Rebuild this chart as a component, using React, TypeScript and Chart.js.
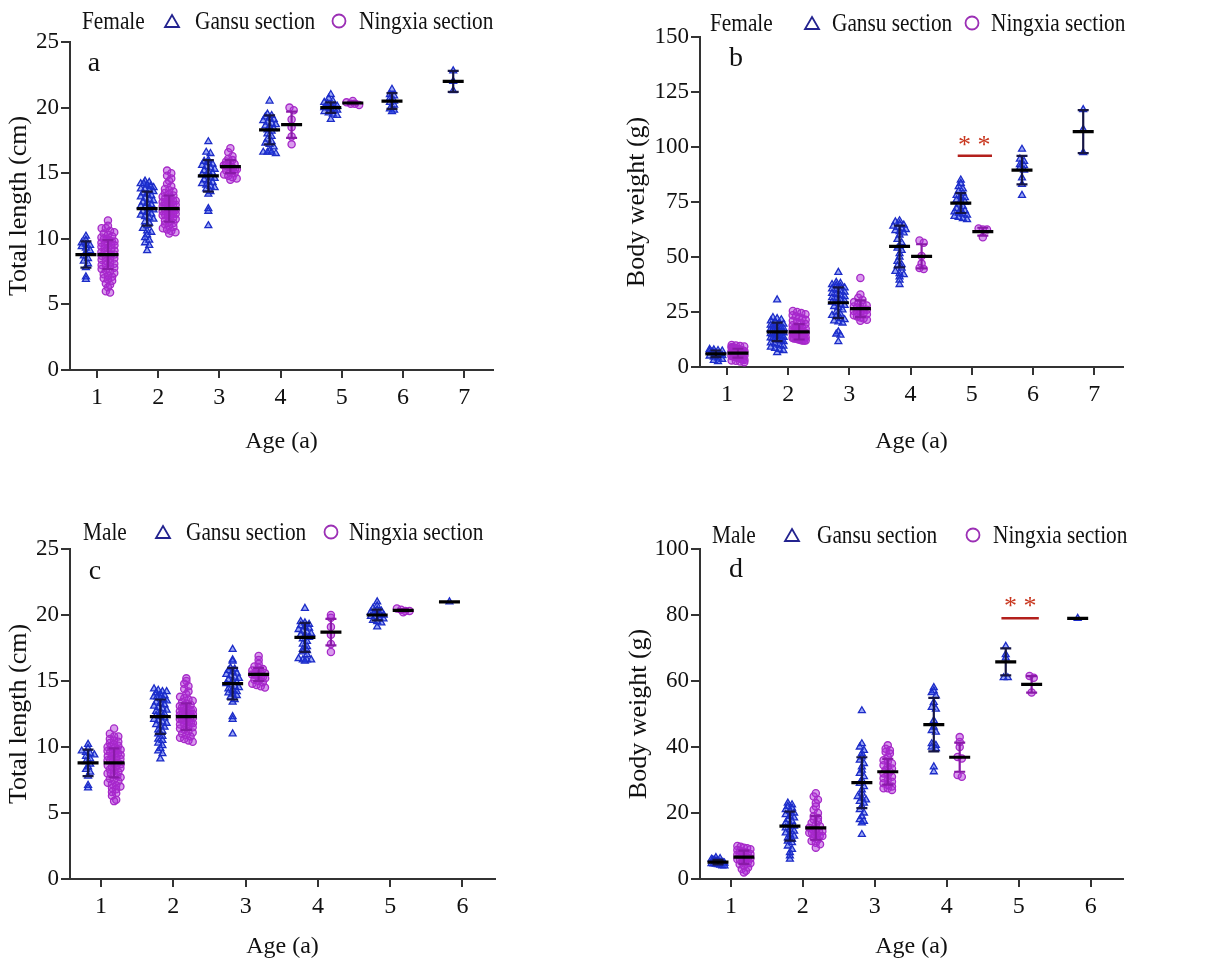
import React, { useEffect, useRef } from 'react';
import { Chart, registerables } from 'chart.js';

Chart.register(...registerables);

const SERIF = '"Liberation Serif", "Times New Roman", Times, serif';

// ---------------- DATA ----------------
const ages7 = [1, 2, 3, 4, 5, 6, 7];
const ages6 = [1, 2, 3, 4, 5, 6];
const ages5 = [1, 2, 3, 4, 5];
const xTicks7 = [1, 2, 3, 4, 5, 6, 7];
const xTicks6 = [1, 2, 3, 4, 5, 6];

// Total length (cm) — individual fish
const tlGansu1 = [10.2, 9.9, 9.7, 9.6, 9.5, 9.4, 9.3, 9.1, 8.9, 8.7, 8.5, 8.3, 8.1, 7.8, 7.1, 6.9];
const tlNingxia1 = [11.4, 11.0, 10.8, 10.8, 10.6, 10.5, 10.4, 10.3, 10.2, 10.1, 10.0, 10.0, 9.9, 9.8, 9.8, 9.7, 9.6, 9.6, 9.5, 9.5, 9.4, 9.3, 9.3, 9.2, 9.1, 9.0, 9.0, 8.9, 8.8, 8.8, 8.7, 8.6, 8.5, 8.5, 8.4, 8.3, 8.2, 8.1, 8.0, 8.0, 7.9, 7.8, 7.7, 7.6, 7.5, 7.4, 7.3, 7.2, 7.1, 7.0, 6.9, 6.8, 6.6, 6.5, 6.3, 6.0, 5.9];
const tlGansu2 = [14.4, 14.3, 14.2, 14.2, 14.1, 14.0, 13.9, 13.8, 13.8, 13.7, 13.6, 13.5, 13.4, 13.3, 13.2, 13.1, 13.0, 12.9, 12.8, 12.7, 12.6, 12.5, 12.4, 12.3, 12.2, 12.1, 12.0, 11.9, 11.8, 11.7, 11.6, 11.5, 11.3, 11.2, 11.0, 10.8, 10.6, 10.5, 10.3, 10.1, 9.9, 9.7, 9.5, 9.1];
const tlNingxia2 = [15.2, 15.0, 14.8, 14.6, 14.4, 14.2, 14.0, 13.8, 13.7, 13.6, 13.5, 13.4, 13.3, 13.2, 13.1, 13.0, 13.0, 12.9, 12.9, 12.8, 12.8, 12.7, 12.7, 12.6, 12.6, 12.5, 12.5, 12.4, 12.4, 12.3, 12.3, 12.2, 12.2, 12.1, 12.1, 12.0, 12.0, 11.9, 11.9, 11.8, 11.8, 11.7, 11.7, 11.6, 11.5, 11.4, 11.3, 11.2, 11.1, 11.0, 10.9, 10.8, 10.7, 10.6, 10.5, 10.4];
const tlGansu3 = [17.4, 16.6, 16.5, 16.0, 15.9, 15.8, 15.7, 15.6, 15.5, 15.4, 15.3, 15.2, 15.1, 15.0, 14.9, 14.8, 14.7, 14.6, 14.5, 14.4, 14.3, 14.2, 14.1, 14.0, 13.9, 13.8, 13.6, 13.4, 12.3, 12.1, 11.0];
const tlNingxia3 = [16.9, 16.6, 16.3, 16.1, 16.0, 15.9, 15.8, 15.7, 15.6, 15.6, 15.5, 15.5, 15.4, 15.4, 15.3, 15.3, 15.2, 15.1, 15.0, 14.9, 14.8, 14.7, 14.6, 14.5];
const tlGansu4 = [20.5, 19.5, 19.4, 19.3, 19.2, 19.1, 19.0, 18.9, 18.8, 18.7, 18.6, 18.5, 18.4, 18.3, 18.2, 18.0, 17.8, 17.6, 17.4, 17.3, 17.2, 17.0, 16.7, 16.6, 16.6, 16.6, 16.5];
const tlNingxia4 = [20.0, 19.8, 19.1, 18.5, 17.8, 17.2];
const tlGansu5 = [21.0, 20.7, 20.5, 20.4, 20.3, 20.2, 20.1, 20.1, 20.0, 20.0, 19.9, 19.9, 19.8, 19.7, 19.6, 19.5, 19.4, 19.1];
const tlNingxia5 = [20.5, 20.4, 20.3, 20.3, 20.2];
const tlGansuF6 = [21.4, 21.0, 20.9, 20.7, 20.5, 20.4, 20.2, 19.9, 19.8, 19.7];
const tlGansuF7 = [22.8, 22.0, 21.3];
const tlGansuM6 = [21.0];

const tlGansuMeanF = [8.8, 12.3, 14.8, 18.3, 20.0, 20.5, 22.0];
const tlGansuSdF = [1.0, 1.3, 1.2, 1.1, 0.4, 0.6, 0.8];
const tlGansuMeanM = [8.8, 12.3, 14.8, 18.3, 20.0, 21.0];
const tlGansuSdM = [1.0, 1.3, 1.2, 1.1, 0.4, 0];
const tlNingxiaMean = [8.8, 12.3, 15.5, 18.7, 20.35];
const tlNingxiaSd = [1.1, 1.0, 0.5, 1.0, 0.1];

// Body weight (g) — female
const bwGansuF1 = [8.0, 7.8, 7.5, 7.3, 7.0, 6.8, 6.5, 6.2, 6.0, 5.8, 5.5, 5.2, 5.0, 4.5, 4.0, 3.5, 3.0, 2.5];
const bwNingxiaF1 = [10.0, 9.8, 9.5, 9.3, 9.0, 9.0, 8.8, 8.6, 8.5, 8.4, 8.2, 8.0, 8.0, 7.8, 7.6, 7.5, 7.4, 7.2, 7.0, 7.0, 6.8, 6.6, 6.5, 6.4, 6.2, 6.0, 6.0, 5.8, 5.6, 5.5, 5.4, 5.2, 5.0, 5.0, 4.8, 4.6, 4.4, 4.2, 4.0, 3.8, 3.6, 3.4, 3.2, 3.0, 2.8, 2.5, 2.2];
const bwGansuF2 = [30.5, 22.5, 22.0, 21.5, 21.0, 20.5, 20.0, 19.5, 19.0, 18.8, 18.5, 18.2, 18.0, 17.8, 17.5, 17.2, 17.0, 16.8, 16.5, 16.2, 16.0, 15.8, 15.5, 15.2, 15.0, 14.8, 14.5, 14.2, 14.0, 13.8, 13.5, 13.2, 13.0, 12.8, 12.5, 12.2, 12.0, 11.5, 11.0, 10.5, 10.0, 9.5, 9.0, 8.5, 8.0, 7.5, 6.5];
const bwNingxiaF2 = [25.5, 25.0, 24.5, 24.0, 23.5, 23.0, 22.5, 22.0, 21.5, 21.0, 20.5, 20.0, 19.5, 19.0, 18.5, 18.0, 17.8, 17.5, 17.2, 17.0, 16.8, 16.5, 16.2, 16.0, 15.8, 15.5, 15.2, 15.0, 14.8, 14.5, 14.2, 14.0, 14.0, 13.8, 13.5, 13.5, 13.2, 13.0, 13.0, 12.8, 12.5, 12.5, 12.2, 12.0, 12.0, 12.0];
const bwGansuF3 = [43.0, 38.5, 38.0, 37.5, 37.0, 36.5, 36.0, 35.5, 35.0, 34.5, 34.0, 33.5, 33.0, 32.5, 32.0, 31.5, 31.0, 30.5, 30.0, 29.5, 29.0, 28.5, 28.0, 27.5, 27.0, 26.0, 25.0, 24.0, 23.5, 23.0, 22.0, 21.5, 21.0, 20.5, 20.0, 16.0, 15.0, 14.5, 11.5];
const bwNingxiaF3 = [40.5, 33.0, 31.5, 30.5, 29.5, 29.0, 28.5, 28.0, 27.5, 27.0, 26.5, 26.0, 26.0, 25.5, 25.0, 25.0, 24.5, 24.0, 23.5, 23.0, 22.5, 22.0, 21.5, 21.0];
const bwGansuF4 = [66.5, 66.0, 65.0, 64.5, 64.0, 63.5, 63.0, 62.5, 62.0, 61.5, 61.0, 60.0, 58.0, 56.5, 55.0, 54.0, 53.0, 51.5, 50.0, 48.0, 46.5, 46.0, 45.0, 43.5, 42.5, 42.0, 41.0, 39.5, 37.5];
const bwNingxiaF4 = [57.5, 56.5, 50.5, 47.0, 45.0, 44.5];
const bwGansuF5 = [85.0, 83.5, 82.0, 81.0, 80.0, 79.0, 78.0, 77.5, 77.0, 76.0, 75.5, 75.0, 74.0, 73.0, 72.0, 71.5, 71.0, 70.5, 70.0, 69.5, 69.0, 68.5, 68.0, 67.5, 67.0];
const bwNingxiaF5 = [63.0, 62.5, 62.5, 59.0];
const bwGansuF6 = [99.0, 94.5, 93.5, 92.0, 91.5, 90.5, 89.5, 86.0, 83.0, 78.0];
const bwGansuF7 = [117.0, 108.0, 97.5];

const bwGansuMeanF = [6.0, 16.0, 29.2, 54.8, 74.5, 89.5, 107.0];
const bwGansuSdF = [1.5, 4.2, 7.0, 9.5, 4.5, 6.5, 9.8];
const bwNingxiaMeanF = [6.3, 16.0, 26.5, 50.3, 61.5];
const bwNingxiaSdF = [2.0, 3.5, 3.8, 5.5, 1.8];

// Body weight (g) — male
const bwGansuM1 = [6.5, 6.2, 6.0, 5.8, 5.6, 5.5, 5.4, 5.3, 5.2, 5.1, 5.0, 5.0, 4.9, 4.8, 4.7, 4.6, 4.5, 4.4, 4.2, 4.0, 4.0];
const bwNingxiaM1 = [10.0, 9.8, 9.5, 9.3, 9.0, 8.8, 8.5, 8.3, 8.0, 7.8, 7.6, 7.4, 7.2, 7.0, 6.8, 6.6, 6.4, 6.2, 6.0, 5.8, 5.5, 5.2, 5.0, 4.8, 4.5, 4.0, 3.5, 3.0, 2.5, 2.0];
const bwGansuM2 = [23.0, 22.5, 22.0, 21.5, 21.0, 20.5, 20.0, 19.5, 19.0, 18.5, 18.0, 17.5, 17.0, 16.5, 16.0, 15.5, 15.0, 14.5, 14.0, 13.5, 13.0, 12.5, 12.0, 11.5, 11.0, 10.0, 9.0, 8.0, 7.0, 6.0];
const bwNingxiaM2 = [26.0, 25.0, 24.0, 23.0, 22.0, 21.0, 20.0, 19.0, 18.5, 18.0, 17.5, 17.0, 16.5, 16.0, 15.5, 15.0, 15.0, 14.5, 14.5, 14.0, 14.0, 13.5, 13.5, 13.0, 13.0, 12.5, 12.0, 11.5, 11.0, 10.5, 9.5];
const bwGansuM3 = [51.0, 41.0, 40.0, 39.0, 38.0, 37.0, 36.0, 35.0, 34.0, 33.0, 32.0, 31.0, 30.0, 29.0, 28.0, 27.0, 26.0, 25.0, 24.5, 24.0, 23.5, 23.0, 22.0, 21.0, 20.0, 19.0, 18.0, 17.5, 17.0, 13.5];
const bwNingxiaM3 = [40.5, 39.5, 39.0, 38.5, 38.0, 37.0, 36.0, 35.5, 35.0, 34.5, 34.0, 33.5, 33.0, 32.5, 32.0, 31.5, 31.0, 30.5, 30.0, 29.5, 29.0, 28.5, 28.0, 27.5, 27.5, 27.0];
const bwGansuM4 = [58.0, 57.0, 56.5, 55.5, 53.5, 52.0, 51.5, 48.0, 46.0, 45.0, 44.5, 41.0, 40.5, 40.0, 39.5, 34.0, 32.5];
const bwNingxiaM4 = [43.0, 41.5, 40.0, 37.0, 36.5, 31.5, 31.0];
const bwGansuM5 = [70.5, 68.0, 67.0, 61.0, 61.0];
const bwNingxiaM5 = [61.5, 61.0, 56.5];
const bwGansuM6 = [79.0];

const bwGansuMeanM = [5.1, 16.0, 29.2, 46.8, 65.8, 79.0];
const bwGansuSdM = [0.7, 4.4, 7.7, 8.1, 4.1, 0];
const bwNingxiaMeanM = [6.6, 15.5, 32.5, 36.9, 59.0];
const bwNingxiaSdM = [2.0, 3.6, 3.9, 4.4, 2.5];

// significance markers (age-5 comparisons)
const sigFemaleWeight = { x0: 4.77, x1: 5.33, lineY: 96, starX: 5.04, starY: 102.7 };
const sigMaleWeight = { x0: 4.76, x1: 5.28, lineY: 79, starX: 5.02, starY: 84 };

// ---------------- LAYOUT / STYLE ----------------
const GANSU_SHIFT = -0.18;
const NINGXIA_SHIFT = 0.18;

interface Sig { x0: number; x1: number; lineY: number; starX: number; starY: number }
interface PanelSpec {
  left: number; top: number; w: number; h: number;
  padTop: number; padRight: number; yAxisW: number; xAxisH: number;
  xMin: number; xMax: number; xTicks: number[];
  yMax: number; yStep: number; yTitle: string; yTitlePad: number; xTitlePad: number;
  gansu: number[][]; gansuAges: number[]; gansuMean: number[]; gansuSd: number[];
  ningxia: number[][]; ningxiaAges: number[]; ningxiaMean: number[]; ningxiaSd: number[];
  sig: Sig | null;
}

type Pt = { x: number; y: number | null };

// column-scatter layout: values sharing a row are spread sideways, row width capped
function swarm(groups: number[][], ages: number[], shift: number, binH: number, step: number, maxSpan: number): Pt[] {
  const pts: Pt[] = [];
  groups.forEach((vals, gi) => {
    const center = ages[gi] + shift;
    const bins = new Map<number, number[]>();
    vals.forEach((v) => {
      const k = Math.round(v / binH);
      if (!bins.has(k)) bins.set(k, []);
      bins.get(k)!.push(v);
    });
    bins.forEach((arr) => {
      const n = arr.length;
      const span = Math.min((n - 1) * step, maxSpan);
      arr.forEach((v, i) => {
        const off = n > 1 ? (i / (n - 1) - 0.5) * span : 0;
        pts.push({ x: center + off, y: v });
      });
    });
  });
  return pts;
}

function meanSegs(means: number[], ages: number[], shift: number, half: number): Pt[] {
  const pts: Pt[] = [];
  means.forEach((m, i) => {
    const c = ages[i] + shift;
    pts.push({ x: c - half, y: m }, { x: c + half, y: m }, { x: c, y: null });
  });
  return pts;
}

function sdSegs(means: number[], sds: number[], ages: number[], shift: number, cap: number): Pt[] {
  const pts: Pt[] = [];
  means.forEach((m, i) => {
    const s = sds[i];
    if (!s) return;
    const c = ages[i] + shift;
    pts.push(
      { x: c, y: m - s }, { x: c, y: m + s }, { x: c, y: null },
      { x: c - cap, y: m + s }, { x: c + cap, y: m + s }, { x: c, y: null },
      { x: c - cap, y: m - s }, { x: c + cap, y: m - s }, { x: c, y: null },
    );
  });
  return pts;
}

const panels: PanelSpec[] = [
  {
    left: 0, top: 0, w: 615, h: 470, padTop: 42, padRight: 122, yAxisW: 70, xAxisH: 100,
    xMin: 0.56, xMax: 7.47, xTicks: xTicks7, yMax: 25, yStep: 5, yTitle: 'Total length (cm)', yTitlePad: 4, xTitlePad: 13.6,
    gansu: [tlGansu1, tlGansu2, tlGansu3, tlGansu4, tlGansu5, tlGansuF6, tlGansuF7], gansuAges: ages7, gansuMean: tlGansuMeanF, gansuSd: tlGansuSdF,
    ningxia: [tlNingxia1, tlNingxia2, tlNingxia3, tlNingxia4, tlNingxia5], ningxiaAges: ages5, ningxiaMean: tlNingxiaMean, ningxiaSd: tlNingxiaSd,
    sig: null,
  },
  {
    left: 615, top: 0, w: 616, h: 470, padTop: 37, padRight: 108, yAxisW: 85, xAxisH: 103,
    xMin: 0.56, xMax: 7.47, xTicks: xTicks7, yMax: 150, yStep: 25, yTitle: 'Body weight (g)', yTitlePad: 7, xTitlePad: 13.6,
    gansu: [bwGansuF1, bwGansuF2, bwGansuF3, bwGansuF4, bwGansuF5, bwGansuF6, bwGansuF7], gansuAges: ages7, gansuMean: bwGansuMeanF, gansuSd: bwGansuSdF,
    ningxia: [bwNingxiaF1, bwNingxiaF2, bwNingxiaF3, bwNingxiaF4, bwNingxiaF5], ningxiaAges: ages5, ningxiaMean: bwNingxiaMeanF, ningxiaSd: bwNingxiaSdF,
    sig: sigFemaleWeight,
  },
  {
    left: 0, top: 490, w: 615, h: 479, padTop: 59, padRight: 120, yAxisW: 70, xAxisH: 90,
    xMin: 0.57, xMax: 6.45, xTicks: xTicks6, yMax: 25, yStep: 5, yTitle: 'Total length (cm)', yTitlePad: 4, xTitlePad: 7.6,
    gansu: [tlGansu1, tlGansu2, tlGansu3, tlGansu4, tlGansu5, tlGansuM6], gansuAges: ages6, gansuMean: tlGansuMeanM, gansuSd: tlGansuSdM,
    ningxia: [tlNingxia1, tlNingxia2, tlNingxia3, tlNingxia4, tlNingxia5], ningxiaAges: ages5, ningxiaMean: tlNingxiaMean, ningxiaSd: tlNingxiaSd,
    sig: null,
  },
  {
    left: 615, top: 490, w: 616, h: 479, padTop: 59, padRight: 108, yAxisW: 85, xAxisH: 90,
    xMin: 0.57, xMax: 6.45, xTicks: xTicks6, yMax: 100, yStep: 20, yTitle: 'Body weight (g)', yTitlePad: 9, xTitlePad: 7.6,
    gansu: [bwGansuM1, bwGansuM2, bwGansuM3, bwGansuM4, bwGansuM5, bwGansuM6], gansuAges: ages6, gansuMean: bwGansuMeanM, gansuSd: bwGansuSdM,
    ningxia: [bwNingxiaM1, bwNingxiaM2, bwNingxiaM3, bwNingxiaM4, bwNingxiaM5], ningxiaAges: ages5, ningxiaMean: bwNingxiaMeanM, ningxiaSd: bwNingxiaSdM,
    sig: sigMaleWeight,
  },
];

const legends = [
  { sex: 'Female', sexX: 82, triX: 172, gansuX: 195, circX: 339, ningX: 359, cy: 21 },
  { sex: 'Female', sexX: 710, triX: 812, gansuX: 832, circX: 972, ningX: 991, cy: 23 },
  { sex: 'Male', sexX: 83, triX: 163, gansuX: 186, circX: 331, ningX: 349, cy: 532 },
  { sex: 'Male', sexX: 712, triX: 792, gansuX: 817, circX: 973, ningX: 993, cy: 535 },
];
const letters = [
  { t: 'a', x: 94, y: 62 },
  { t: 'b', x: 736, y: 57 },
  { t: 'c', x: 95, y: 570 },
  { t: 'd', x: 736, y: 568 },
];

const AXIS = '#333333';
const TEXT = '#111111';

function Panel({ spec }: { spec: PanelSpec }) {
  const ref = useRef<HTMLCanvasElement | null>(null);
  useEffect(() => {
    if (!ref.current) return;
    const chartW = spec.w - spec.yAxisW - spec.padRight;
    const chartH = spec.h - spec.padTop - spec.xAxisH;
    const uPerPx = (spec.xMax - spec.xMin) / chartW;
    const vPerPx = spec.yMax / chartH;
    const step = 4.2 * uPerPx;
    const maxSpan = 13 * uPerPx;
    const binH = 4.5 * vPerPx;
    const meanHalf = 10.5 * uPerPx;
    const capHalf = 5.5 * uPerPx;

    const gPts = swarm(spec.gansu, spec.gansuAges, GANSU_SHIFT, binH, step, maxSpan);
    const nPts = swarm(spec.ningxia, spec.ningxiaAges, NINGXIA_SHIFT, binH, step, maxSpan);

    const datasets: any[] = [
      {
        label: 'Mean', data: [...meanSegs(spec.gansuMean, spec.gansuAges, GANSU_SHIFT, meanHalf), ...meanSegs(spec.ningxiaMean, spec.ningxiaAges, NINGXIA_SHIFT, meanHalf)],
        showLine: true, borderColor: '#000000', borderWidth: 3.2, pointRadius: 0, order: 0, spanGaps: false,
      },
      {
        label: 'Gansu SD', data: sdSegs(spec.gansuMean, spec.gansuSd, spec.gansuAges, GANSU_SHIFT, capHalf),
        showLine: true, borderColor: '#161645', borderWidth: 2.2, pointRadius: 0, order: 1, spanGaps: false,
      },
      {
        label: 'Ningxia SD', data: sdSegs(spec.ningxiaMean, spec.ningxiaSd, spec.ningxiaAges, NINGXIA_SHIFT, capHalf),
        showLine: true, borderColor: '#8a1aa8', borderWidth: 2.2, pointRadius: 0, order: 1, spanGaps: false,
      },
      {
        label: 'Gansu section', data: gPts, pointStyle: 'triangle', pointRadius: 4, pointHoverRadius: 4,
        pointBorderColor: '#1c2cc8', pointBackgroundColor: 'rgba(35,65,235,0.45)', pointBorderWidth: 1.3, order: 3,
      },
      {
        label: 'Ningxia section', data: nPts, pointStyle: 'circle', pointRadius: 3.6, pointHoverRadius: 3.6,
        pointBorderColor: '#a62ac8', pointBackgroundColor: 'rgba(170,35,215,0.45)', pointBorderWidth: 1.3, order: 3,
      },
    ];
    if (spec.sig) {
      datasets.push({
        label: 'sig', data: [{ x: spec.sig.x0, y: spec.sig.lineY }, { x: spec.sig.x1, y: spec.sig.lineY }],
        showLine: true, borderColor: '#b3201c', borderWidth: 2.5, pointRadius: 0, order: 0,
      });
    }

    const sig = spec.sig;
    const starPlugin = {
      id: 'stars',
      afterDatasetsDraw(chart: any) {
        if (!sig) return;
        const { ctx, scales } = chart;
        ctx.save();
        ctx.fillStyle = '#c8361e';
        ctx.font = `26px ${SERIF}`;
        ctx.textAlign = 'center';
        ctx.textBaseline = 'middle';
        ctx.fillText('* *', scales.x.getPixelForValue(sig.starX), scales.y.getPixelForValue(sig.starY) + 5);
        ctx.restore();
      },
    };

    const chart = new Chart(ref.current, {
      type: 'scatter',
      data: { datasets },
      plugins: [starPlugin],
      options: {
        responsive: false,
        animation: false,
        events: [],
        layout: { padding: { top: spec.padTop, right: spec.padRight, bottom: 0, left: 0 } },
        plugins: { legend: { display: false }, tooltip: { enabled: false } },
        scales: {
          x: {
            type: 'linear', min: spec.xMin, max: spec.xMax,
            afterBuildTicks: (s: any) => { s.ticks = spec.xTicks.map((v) => ({ value: v })); },
            afterFit: (s: any) => { s.height = spec.xAxisH; },
            grid: { display: true, drawOnChartArea: false, drawTicks: true, tickLength: 8, color: AXIS, lineWidth: 2 },
            border: { display: true, color: AXIS, width: 2 },
            ticks: { font: { family: SERIF, size: 24 }, color: TEXT, padding: 5 },
            title: { display: true, text: 'Age (a)', font: { family: SERIF, size: 24 }, color: TEXT, padding: { top: 0, bottom: spec.xTitlePad } },
          },
          y: {
            type: 'linear', min: 0, max: spec.yMax,
            afterFit: (s: any) => { s.width = spec.yAxisW; },
            grid: { display: true, drawOnChartArea: false, drawTicks: true, tickLength: 9, color: AXIS, lineWidth: 2 },
            border: { display: true, color: AXIS, width: 2 },
            ticks: { stepSize: spec.yStep, font: { family: SERIF, size: 23 }, color: TEXT, padding: 2 },
            title: { display: true, text: spec.yTitle, font: { family: SERIF, size: 26 }, color: TEXT, padding: { top: spec.yTitlePad, bottom: 0 } },
          },
        },
      } as any,
    });
    return () => chart.destroy();
  }, [spec]);
  return (
    <canvas
      ref={ref}
      width={spec.w}
      height={spec.h}
      style={{ position: 'absolute', left: spec.left, top: spec.top, width: spec.w, height: spec.h }}
    />
  );
}

const wordStyle = (x: number, y: number): React.CSSProperties => ({
  position: 'absolute', left: x, top: y, transform: 'translateY(-50%) scaleX(0.82)', transformOrigin: 'left center',
  fontFamily: SERIF, fontSize: 26, lineHeight: '1', whiteSpace: 'nowrap', color: TEXT,
});

export default function App() {
  return (
    <div style={{ position: 'absolute', left: 0, top: 0, width: 1231, height: 969, background: '#ffffff', overflow: 'hidden' }}>
      {panels.map((p, i) => <Panel key={i} spec={p} />)}
      {legends.map((l, i) => (
        <React.Fragment key={'lg' + i}>
          <span style={wordStyle(l.sexX, l.cy)}>{l.sex}</span>
          <svg width={18} height={16} style={{ position: 'absolute', left: l.triX - 9, top: l.cy - 8 }}>
            <polygon points="9,2 16,14 2,14" fill="none" stroke="#23238f" strokeWidth={1.8} />
          </svg>
          <span style={wordStyle(l.gansuX, l.cy)}>Gansu section</span>
          <svg width={18} height={18} style={{ position: 'absolute', left: l.circX - 9, top: l.cy - 9 }}>
            <circle cx={9} cy={9} r={6.5} fill="none" stroke="#9b2fb5" strokeWidth={1.8} />
          </svg>
          <span style={wordStyle(l.ningX, l.cy)}>Ningxia section</span>
        </React.Fragment>
      ))}
      {letters.map((l) => (
        <span key={l.t} style={{ position: 'absolute', left: l.x, top: l.y, transform: 'translate(-50%, -50%)', fontFamily: SERIF, fontSize: 28, lineHeight: '1', color: TEXT }}>{l.t}</span>
      ))}
    </div>
  );
}
